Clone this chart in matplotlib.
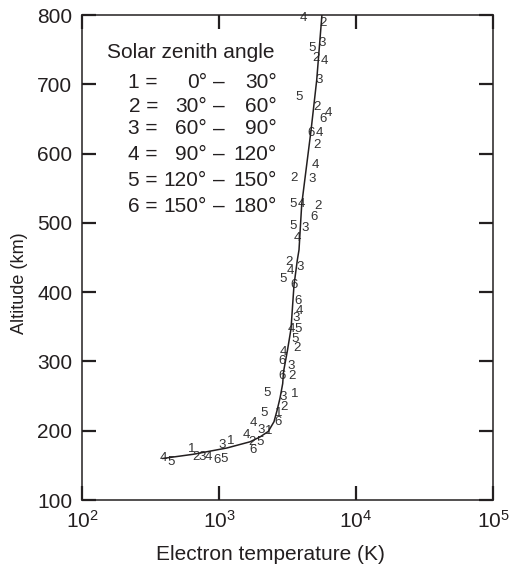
import matplotlib
matplotlib.use("Agg")
import matplotlib.pyplot as plt

plt.rcParams["font.family"] = ["Liberation Sans", "DejaVu Sans"]
plt.rcParams["mathtext.fontset"] = "custom"
plt.rcParams["mathtext.rm"] = "Liberation Sans"
plt.rcParams["mathtext.it"] = "Liberation Sans"
plt.rcParams["mathtext.default"] = "regular"

INK = "#231f20"

# Mean electron temperature profile (K) versus altitude (km)
curve_temp = [390, 649, 1138, 1684, 1992, 2290, 2520, 2651, 2788, 2917, 2957,
              3160, 3354, 3527, 3728, 3837, 4017, 4700, 5166, 5640]
curve_alt = [160, 166, 175, 184, 191, 199, 213, 229, 247, 268, 285,
             316, 347, 410, 446, 461, 527, 634, 706, 800]

# Individual measurements, labelled by solar zenith angle bin (1-6)
obs_bin = ["4", "2", "3", "5", "2", "4", "3", "5", "2", "4", "6", "6", "4",
           "2", "4", "2", "3", "5", "4", "2", "6", "5", "3", "4",
           "2", "3", "4", "5", "6", "6", "4", "3", "4", "5", "5", "2", "4",
           "6", "3", "2", "6", "5", "3", "1", "2", "1", "5", "6", "4", "3",
           "1", "4", "2", "5", "6", "3", "1", "1", "2", "3", "4", "6", "5",
           "4", "5"]
obs_temp = [4150, 5715, 5700, 4750, 5080, 5840, 5370, 3837, 5166, 6280, 5715,
            4670, 5397, 5166, 5080, 3527, 4750, 3485, 3968, 5307, 4937, 3485,
            4243, 3754, 3261, 3901, 3299, 2917, 3527, 3792, 3837, 3648, 3395,
            3792, 3586, 3728, 2947, 2869, 3338, 3395, 2869, 2253, 2917, 3586,
            2997, 2709, 2131, 2709, 1780, 2026, 2290, 1593, 1733, 1992, 1780,
            1046, 1217, 632, 676, 747, 835, 962, 1088, 392, 444]
obs_alt = [796, 788, 760, 753, 738, 733, 706, 682, 667, 659, 650, 630, 630,
           613, 584, 565, 563, 527, 527, 525, 509, 495, 493, 478, 443, 436,
           431, 419, 410, 387, 373, 362, 347, 347, 333, 319, 314, 301, 293,
           279, 279, 255, 249, 253, 234, 226, 226, 213, 211, 201, 199, 194,
           184, 183, 172, 179, 185, 174, 162, 162, 162, 158, 159, 160, 155]

legend_title = "Solar zenith angle"
legend_keys = ["1 =", "2 =", "3 =", "4 =", "5 =", "6 ="]
legend_lo = ["0°", "30°", "60°", "90°", "120°", "150°"]
legend_hi = ["30°", "60°", "90°", "120°", "150°", "180°"]

x_ticks = [1e2, 1e3, 1e4, 1e5]
x_ticklabels = ["$10^{2}$", "$10^{3}$", "$10^{4}$", "$10^{5}$"]
y_ticks = [100, 200, 300, 400, 500, 600, 700, 800]

W, H = 509, 568
FS = 15
fig = plt.figure(figsize=(W / 100, H / 100), dpi=100)
ax = fig.add_axes([82 / W, 1 - 500 / H, 411 / W, 485 / H])

ax.set_xscale("log")
ax.set_xlim(1e2, 1e5)
ax.set_ylim(100, 800)

ax.plot(curve_temp, curve_alt, color=INK, lw=1.1, zorder=3)
for d, t, a in zip(obs_bin, obs_temp, obs_alt):
    ax.text(t, a, d, fontsize=9.5, color="#333333", ha="center", va="center",
            zorder=2)

for s in ax.spines.values():
    s.set_linewidth(1.1)
    s.set_color(INK)

ax.set_xticks(x_ticks)
ax.set_xticklabels(x_ticklabels)
ax.xaxis.set_minor_locator(matplotlib.ticker.NullLocator())
ax.set_yticks(y_ticks)
ax.tick_params(axis="both", which="major", direction="in", length=10,
               width=1.6, color=INK, labelsize=FS, labelcolor=INK)
ax.tick_params(axis="x", top=True, pad=7)
ax.tick_params(axis="y", right=True, pad=7)

fig.text(270 / W, 1 - 555 / H, "Electron temperature (K)", fontsize=FS,
         color=INK, ha="center", va="center")
fig.text(20 / W, 1 - 283 / H, "Altitude (km)", fontsize=13, color=INK,
         ha="center", va="center", rotation=90)

# Legend block for the zenith-angle bins
fig.text(107 / W, 1 - 52 / H, legend_title, fontsize=FS, color=INK,
         ha="left", va="center")
row_y = [82, 106, 129, 154, 180, 206]
for k, lo, hi, yy in zip(legend_keys, legend_lo, legend_hi, row_y):
    yf = 1 - yy / H
    fig.text(158 / W, yf, k, fontsize=FS, color=INK, ha="right", va="center")
    fig.text(207 / W, yf, lo, fontsize=FS, color=INK, ha="right", va="center")
    fig.text(219 / W, yf, "–", fontsize=FS, color=INK, ha="center", va="center")
    fig.text(277 / W, yf, hi, fontsize=FS, color=INK, ha="right", va="center")

fig.savefig("out.png", dpi=100)
